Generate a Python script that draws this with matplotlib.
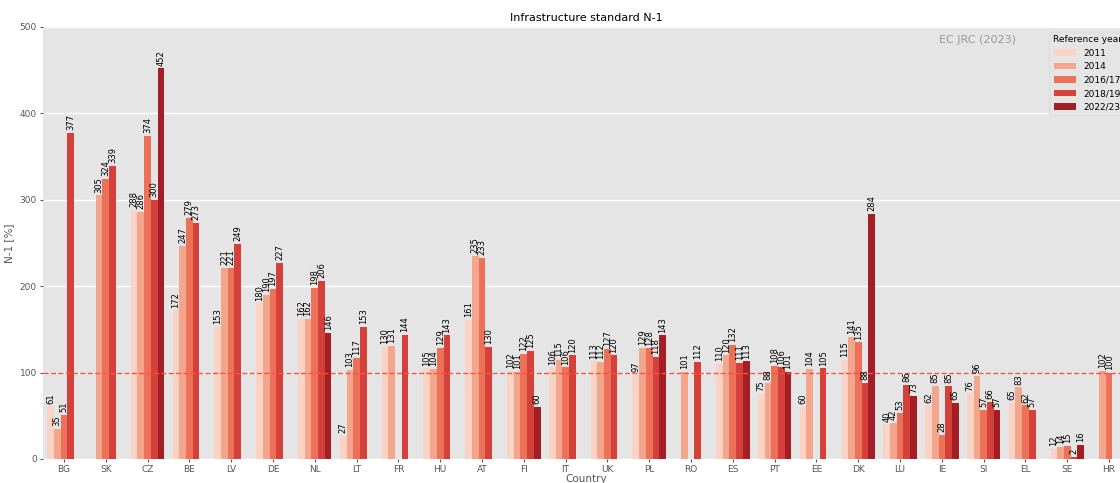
import numpy as np
import matplotlib.pyplot as plt

nan = np.nan

countries = ["BG", "SK", "CZ", "BE", "LV", "DE", "NL", "LT", "FR", "HU", "AT", "FI", "IT",
             "UK", "PL", "RO", "ES", "PT", "EE", "DK", "LU", "IE", "SI", "EL", "SE", "HR"]
years = ["2011", "2014", "2016/17", "2018/19", "2022/23"]

n1_2011 = [61, nan, 288, 172, 153, 180, 162, 27, 130, 105, 161, 102, 106,
           113, 97, nan, 110, 75, 60, 115, 40, 62, 76, 65, 12, nan]
n1_2014 = [35, 305, 286, 247, 221, 190, 162, 103, 131, 104, 235, 101, 115,
           112, 129, 101, 120, 88, 104, 141, 42, 85, 96, 83, 14, 102]
n1_2016 = [51, 324, 374, 279, 221, 197, 198, 117, nan, 129, 233, 122, 106,
           127, 128, nan, 132, 108, nan, 135, 53, 28, 57, 62, 15, 100]
n1_2018 = [377, 339, 300, 273, 249, 227, 206, 153, 144, 143, 130, 125, 120,
           120, 118, 112, 111, 106, 105, 88, 86, 85, 66, 57, 2, nan]
n1_2022 = [nan, nan, 452, nan, nan, nan, 146, nan, nan, nan, nan, 60, nan,
           nan, 143, nan, 113, 101, nan, 284, 73, 65, 57, nan, 16, nan]

series = [n1_2011, n1_2014, n1_2016, n1_2018, n1_2022]
colors = ["#fbd3c4", "#f4a68c", "#ec7158", "#d4403a", "#a41e26"]

fig = plt.figure(figsize=(11.2, 4.83), dpi=100)
ax = fig.add_axes([43 / 1120, 24 / 483, 1087 / 1120, 432 / 483])
ax.set_facecolor("#e5e5e5")
for s in ax.spines.values():
    s.set_visible(False)
ax.grid(axis="y", color="white", linewidth=1)
ax.set_axisbelow(True)

x = np.arange(len(countries))
width = 0.16
for i, (vals, year) in enumerate(zip(series, years)):
    vals = np.array(vals, dtype=float)
    rects = ax.bar(x + (i - 2) * width, vals, width, color=colors[i], label=year)
    labels = ["" if np.isnan(v) else f"{v:.0f}" for v in vals]
    ax.bar_label(rects, labels=labels, rotation=90, padding=2, fontsize=6)

ax.axhline(100, color="#f4553f", linestyle="--", linewidth=1)

ax.set_xlim(-0.5, len(countries) - 0.5)
ax.set_ylim(0, 500)
ax.set_yticks([0, 100, 200, 300, 400, 500])
ax.set_xticks(x)
ax.set_xticklabels(countries)
ax.tick_params(axis="both", labelsize=6.5, colors="#555555", length=2.5, pad=2, direction="out")
ax.set_xlabel("Country", fontsize=7.5, color="#555555", labelpad=0)
ax.set_ylabel("N-1 [%]", fontsize=7.5, color="#555555")
ax.set_title("Infrastructure standard N-1", fontsize=8, pad=4)

ax.text(0.86, 0.97, "EC JRC (2023)", transform=ax.transAxes, ha="center", va="center",
        fontsize=8, color="#999999")

ax.legend(title="Reference year", loc="upper right", fontsize=6.5, title_fontsize=6.5,
          facecolor="#e5e5e5", edgecolor="#dddddd", handlelength=2.5)

fig.savefig("out.png", dpi=100)
